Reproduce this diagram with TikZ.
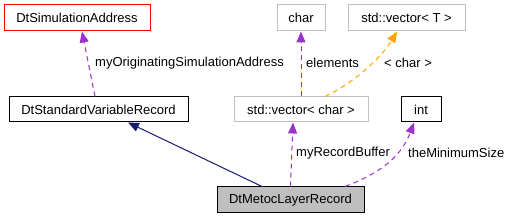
\documentclass[tikz,border=0pt]{standalone}
\usepackage{fontspec}
\setmainfont{Liberation Sans}
\usetikzlibrary{arrows.meta}
\definecolor{edgepurple}{HTML}{9A32CD}
\definecolor{edgeorange}{HTML}{FFA500}
\definecolor{edgenavy}{HTML}{191970}
\definecolor{boxgray}{HTML}{BFBFBF}
\begin{document}
\begin{tikzpicture}[x=1pt,y=-1pt,
  cls/.style={draw=black, line width=1pt, minimum height=25pt, inner sep=0pt, font=\fontsize{13}{15}\selectfont},
  graycls/.style={cls, draw=boxgray},
  redcls/.style={cls, draw=red},
  lbl/.style={anchor=west, inner sep=0pt, font=\fontsize{13}{15}\selectfont},
  usage/.style={draw=edgepurple, line width=1pt, dash pattern=on 5pt off 4pt, -{Triangle[length=11pt,width=9pt]}, fill=none},
  tmpl/.style={draw=edgeorange, line width=1pt, dash pattern=on 5pt off 4pt, -{Triangle[length=11pt,width=9pt]}},
  inherit/.style={draw=edgenavy, line width=1pt, -{Triangle[length=11pt,width=9pt]}}
]
\useasboundingbox (0,0) rectangle (512,219);
\node[redcls, minimum width=146pt, minimum height=26pt] (sim) at (77,18) {DtSimulationAddress};
\node[cls, minimum width=179pt] (std) at (98.5,109.5) {DtStandardVariableRecord};
\node[graycls, minimum width=48pt, minimum height=26pt] (char) at (301,18) {char};
\node[graycls, minimum width=117pt, minimum height=26pt] (vect) at (406.5,18) {std::vector< T >};
\node[graycls, minimum width=134pt] (vecc) at (301,109.5) {std::vector< char >};
\node[cls, minimum width=40pt] (int) at (421,109.5) {int};
\node[cls, fill=boxgray, minimum width=147pt, minimum height=26pt] (met) at (290.5,200) {DtMetocLayerRecord};

\draw[usage] ([xshift=-3.5pt]std.north) -- ([xshift=5pt]sim.south);
\node[lbl] (l1) at (95,63) {myOriginatingSimulationAddress};
\draw[inherit] ([xshift=-28.5pt]met.north) -- ([xshift=29.5pt]std.south);
\draw[usage] (vecc.north) -- (char.south);
\node[lbl] (l2) at (306,63) {elements};
\draw[tmpl] ([xshift=24pt]vecc.north) .. controls (350,85) and (380,60) .. ([xshift=-9.5pt]vect.south);
\node[lbl] (l3) at (384,63) {< char >};
\draw[usage] (met.north) -- ([xshift=-8pt]vecc.south);
\node[lbl] (l4) at (296,153) {myRecordBuffer};
\draw[usage] ([xshift=54.5pt]met.north) .. controls (375,175) and (400,160) .. ([xshift=-7pt]int.south);
\node[lbl] (l5) at (408,153) {theMinimumSize};
\end{tikzpicture}
\end{document}
